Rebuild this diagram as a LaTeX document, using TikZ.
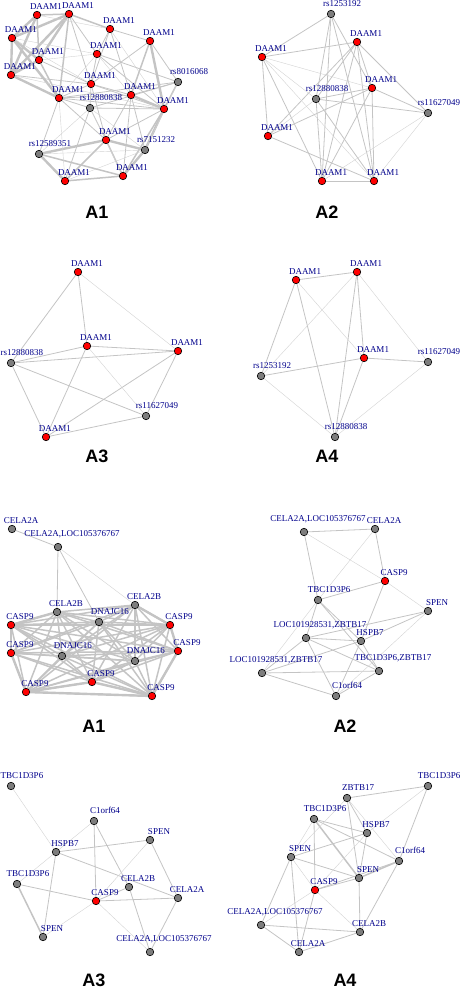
\documentclass[tikz,border=0pt]{standalone}
\usepackage{fontspec}
\setmainfont{Liberation Serif}
\setsansfont{Liberation Sans}

\definecolor{labelblue}{RGB}{0,0,139}
\definecolor{edgegray}{RGB}{196,196,196}
\definecolor{snpgray}{RGB}{125,125,125}

\pgfdeclarelayer{edges}
\pgfsetlayers{edges,main}

\tikzset{
  vtx/.style = {circle, draw = black, line width = 0.6pt, inner sep = 0pt, minimum size = 7.5pt},
  hit/.style = {vtx, fill = red},
  snp/.style = {vtx, fill = snpgray},
  lbl/.style = {font = \fontsize{9}{10}\selectfont, text = labelblue, inner sep = 0pt, anchor = base},
  ttl/.style = {font = \sffamily\bfseries\fontsize{18}{20}\selectfont, inner sep = 0pt},
  lnfaint/.style = {draw = edgegray!75, line width = 0.4pt},
  lnmid/.style = {draw = edgegray, line width = 0.8pt},
  lnbold/.style = {draw = edgegray, line width = 1.5pt},
  lnheavy/.style = {draw = edgegray, line width = 2.4pt}
}

% vertex with its label up and to the right
\newcommand{\gnode}[5][9]{%
  \node[#2] (#3) at (#4) {};
  \node[lbl, xshift = #1pt, yshift = #1pt-3.5pt] (#3l) at (#4) {#5};}

\begin{document}
\begin{tikzpicture}[x = 1pt, y = -1pt]
  \useasboundingbox (0,0) rectangle (462,992);

  % top A1
  \gnode{hit}{a1}{37,15}{DAAM1}
  \gnode{hit}{a2}{69,14}{DAAM1}
  \gnode{hit}{a3}{12,38}{DAAM1}
  \gnode{hit}{a4}{110,29}{DAAM1}
  \gnode{hit}{a5}{150,41}{DAAM1}
  \gnode{hit}{a6}{97,54}{DAAM1}
  \gnode{hit}{a7}{39,60}{DAAM1}
  \gnode{hit}{a8}{11,75}{DAAM1}
  \gnode[11]{snp}{a9}{178,82}{rs8016068}
  \gnode{hit}{a10}{91,84}{DAAM1}
  \gnode{hit}{a11}{131,95}{DAAM1}
  \gnode{hit}{a12}{59,98}{DAAM1}
  \gnode[11]{snp}{a13}{90,108}{rs12880838}
  \gnode{hit}{a14}{164,109}{DAAM1}
  \gnode{hit}{a15}{106,140}{DAAM1}
  \gnode[11]{snp}{a16}{39,154}{rs12589351}
  \gnode[11]{snp}{a17}{145,150}{rs7151232}
  \gnode{hit}{a18}{65,181}{DAAM1}
  \gnode{hit}{a19}{123,176}{DAAM1}
  \node[ttl] (ta1) at (97,212) {A1};

  % top A2
  \gnode[11]{snp}{b1}{331,14}{rs1253192}
  \gnode{hit}{b2}{357,42}{DAAM1}
  \gnode{hit}{b3}{262,57}{DAAM1}
  \gnode{hit}{b4}{372,88}{DAAM1}
  \gnode[11]{snp}{b5}{316,99}{rs12880838}
  \gnode[11]{snp}{b6}{428,113}{rs11627049}
  \gnode{hit}{b7}{268,136}{DAAM1}
  \gnode{hit}{b8}{322,181}{DAAM1}
  \gnode{hit}{b9}{374,181}{DAAM1}
  \node[ttl] (ta2) at (327,212) {A2};

  % A3
  \gnode{hit}{c1}{78,272}{DAAM1}
  \gnode{hit}{c2}{87,346}{DAAM1}
  \gnode{hit}{c3}{178,351}{DAAM1}
  \gnode[11]{snp}{c4}{11,363}{rs12880838}
  \gnode[11]{snp}{c5}{146,416}{rs11627049}
  \gnode{hit}{c6}{46,437}{DAAM1}
  \node[ttl] (ta3) at (97,456) {A3};

  % A4
  \gnode{hit}{d1}{296,280}{DAAM1}
  \gnode{hit}{d2}{357,272}{DAAM1}
  \gnode{hit}{d3}{364,358}{DAAM1}
  \gnode[11]{snp}{d4}{428,362}{rs11627049}
  \gnode[11]{snp}{d5}{261,376}{rs1253192}
  \gnode[11]{snp}{d6}{335,437}{rs12880838}
  \node[ttl] (ta4) at (327,456) {A4};

  % bottom A1
  \gnode{snp}{e1}{12,529}{CELA2A}
  \gnode[14]{snp}{e2}{58,547}{CELA2A,LOC105376767}
  \gnode{snp}{e3}{57,612}{CELA2B}
  \gnode{snp}{e4}{135,605}{CELA2B}
  \gnode[11]{snp}{e5}{99,622}{DNAJC16}
  \gnode{hit}{e6}{11,625}{CASP9}
  \gnode{hit}{e7}{170,625}{CASP9}
  \gnode{hit}{e8}{11,653}{CASP9}
  \gnode[11]{snp}{e9}{62,656}{DNAJC16}
  \gnode{hit}{e10}{178,651}{CASP9}
  \gnode[11]{snp}{e11}{135,661}{DNAJC16}
  \gnode{hit}{e12}{92,682}{CASP9}
  \gnode{hit}{e13}{26,692}{CASP9}
  \gnode{hit}{e14}{152,696}{CASP9}
  \node[ttl] (tb1) at (94,726) {A1};

  % bottom A2
  \gnode[14]{snp}{f1}{304,532}{CELA2A,LOC105376767}
  \gnode{snp}{f2}{375,529}{CELA2A}
  \gnode{hit}{f3}{385,581}{CASP9}
  \gnode[11]{snp}{f4}{318,600}{TBC1D3P6}
  \gnode{snp}{f5}{428,611}{SPEN}
  \gnode[14]{snp}{f6}{306,638}{LOC101928531,ZBTB17}
  \gnode{snp}{f7}{361,641}{HSPB7}
  \gnode[14]{snp}{f8}{262,673}{LOC101928531,ZBTB17}
  \gnode[14]{snp}{f9}{379,671}{TBC1D3P6,ZBTB17}
  \gnode[11]{snp}{f10}{336,696}{C1orf64}
  \node[ttl] (tb2) at (345,726) {A2};

  % bottom A3
  \gnode[11]{snp}{g1}{11,786}{TBC1D3P6}
  \gnode[11]{snp}{g2}{94,821}{C1orf64}
  \gnode{snp}{g3}{150,840}{SPEN}
  \gnode{snp}{g4}{56,852}{HSPB7}
  \gnode[11]{snp}{g5}{17,884}{TBC1D3P6}
  \gnode{snp}{g6}{129,887}{CELA2B}
  \gnode{hit}{g7}{96,901}{CASP9}
  \gnode{snp}{g8}{178,898}{CELA2A}
  \gnode{snp}{g9}{43,937}{SPEN}
  \gnode[14]{snp}{g10}{150,952}{CELA2A,LOC105376767}
  \node[ttl] (tb3) at (94,980) {A3};

  % bottom A4
  \gnode[11]{snp}{h1}{428,786}{TBC1D3P6}
  \gnode[11]{snp}{h2}{347,798}{ZBTB17}
  \gnode[11]{snp}{h3}{314,819}{TBC1D3P6}
  \gnode{snp}{h4}{367,833}{HSPB7}
  \gnode{snp}{h5}{291,857}{SPEN}
  \gnode[11]{snp}{h6}{399,861}{C1orf64}
  \gnode{snp}{h7}{359,878}{SPEN}
  \gnode{hit}{h8}{315,890}{CASP9}
  \gnode[14]{snp}{h9}{261,925}{CELA2A,LOC105376767}
  \gnode{snp}{h10}{360,932}{CELA2B}
  \gnode{snp}{h11}{299,952}{CELA2A}
  \node[ttl] (tb4) at (345,980) {A4};

  \begin{pgfonlayer}{edges}
    % top A1
    \foreach \u/\v in {a1/a3, a1/a8, a2/a3, a2/a7, a2/a8, a3/a8, a3/a7, a7/a8, a8/a12, a3/a12,
      a5/a14, a11/a14, a15/a16, a16/a18, a15/a17, a17/a19, a14/a17}
      \draw[lnheavy] (\u) -- (\v);
    \foreach \u/\v in {a1/a7, a2/a12, a7/a12, a1/a2, a9/a14, a15/a18, a18/a19, a14/a19, a5/a11,
      a2/a4, a16/a19, a15/a19}
      \draw[lnbold] (\u) -- (\v);
    \foreach \u/\v in {a2/a6, a4/a5, a4/a6, a2/a10, a6/a10, a4/a10, a4/a11, a5/a10, a6/a14, a6/a9,
      a10/a11, a10/a14, a10/a13, a12/a13, a10/a12, a11/a12, a12/a14, a8/a10, a7/a10, a13/a14,
      a11/a15, a11/a17, a11/a19, a13/a15, a13/a18, a12/a16, a12/a15, a14/a15, a9/a11, a9/a13,
      a5/a9, a10/a15, a9/a12}
      \draw[lnmid] (\u) -- (\v);
    \foreach \u/\v in {a3/a10, a13/a16, a16/a17, a13/a17, a12/a18, a1/a4, a3/a6, a6/a7, a8/a14,
      a4/a14, a17/a18, a6/a11, a6/a12, a9/a17, a13/a19}
      \draw[lnfaint] (\u) -- (\v);

    % top A2
    \foreach \u/\v in {b1/b3, b1/b5, b1/b8, b1/b9, b2/b3, b2/b5, b2/b7, b2/b8, b2/b9, b2/b4,
      b2/b6, b3/b7, b3/b8, b4/b5, b4/b6, b4/b7, b4/b8, b4/b9, b5/b6, b5/b8, b5/b9, b7/b9,
      b8/b9, b1/b4}
      \draw[lnmid] (\u) -- (\v);
    \foreach \u/\v in {b3/b9, b3/b4, b6/b8, b6/b9, b5/b7, b3/b5}
      \draw[lnfaint] (\u) -- (\v);

    % A3
    \foreach \u/\v in {c1/c4, c1/c2, c2/c4, c2/c3, c2/c6, c3/c4, c3/c6, c3/c5, c4/c6, c4/c5, c6/c5}
      \draw[lnmid] (\u) -- (\v);
    \foreach \u/\v in {c1/c3, c2/c5}
      \draw[lnfaint] (\u) -- (\v);

    % A4
    \foreach \u/\v in {d1/d2, d1/d5, d1/d6, d2/d6, d2/d3, d3/d5, d3/d4, d3/d6}
      \draw[lnmid] (\u) -- (\v);
    \foreach \u/\v in {d1/d3, d2/d5, d2/d4, d5/d6, d4/d6}
      \draw[lnfaint] (\u) -- (\v);

    % bottom A1
    \foreach \u/\v in {e1/e2, e2/e3, e2/e5}
      \draw[lnmid] (\u) -- (\v);
    \draw[lnfaint] (e2) -- (e4);
    \foreach \i in {3,...,13} {
      \pgfmathtruncatemacro{\k}{\i + 1}
      \foreach \j in {\k,...,14}
        \draw[lnbold] (e\i) -- (e\j);
    }
    \foreach \u/\v in {e6/e8, e8/e13, e13/e14, e14/e10, e10/e7, e7/e4, e6/e3, e13/e12, e12/e14}
      \draw[lnheavy] (\u) -- (\v);

    % bottom A2
    \foreach \u/\v in {f1/f2, f1/f4, f2/f3, f3/f4, f3/f7, f4/f6, f4/f7, f4/f9, f5/f6, f5/f7,
      f6/f7, f6/f8, f6/f9, f6/f10, f7/f8, f7/f9, f7/f10, f8/f9, f8/f10, f9/f10}
      \draw[lnmid] (\u) -- (\v);
    \foreach \u/\v in {f1/f3, f2/f4, f3/f5, f4/f8, f5/f10}
      \draw[lnfaint] (\u) -- (\v);

    % bottom A3
    \foreach \u/\v in {g2/g7, g2/g6, g3/g4, g3/g8, g4/g9, g4/g8, g5/g7, g6/g10, g7/g8, g8/g10, g6/g7}
      \draw[lnmid] (\u) -- (\v);
    \draw[lnbold] (g5) -- (g9);
    \foreach \u/\v in {g1/g4, g2/g4, g3/g7, g4/g5, g7/g9, g7/g10}
      \draw[lnfaint] (\u) -- (\v);

    % bottom A4
    \foreach \u/\v in {h1/h2, h1/h6, h2/h4, h2/h7, h3/h4, h3/h6, h3/h8, h4/h5, h4/h7, h5/h7,
      h5/h9, h5/h11, h6/h10, h7/h8, h7/h10, h8/h11, h9/h10, h9/h11, h10/h11, h6/h8}
      \draw[lnmid] (\u) -- (\v);
    \foreach \u/\v in {h3/h7, h6/h7}
      \draw[lnbold] (\u) -- (\v);
    \foreach \u/\v in {h1/h4, h2/h6, h2/h5, h3/h5, h5/h8, h8/h9, h8/h10, h4/h8}
      \draw[lnfaint] (\u) -- (\v);
  \end{pgfonlayer}
\end{tikzpicture}
\end{document}
